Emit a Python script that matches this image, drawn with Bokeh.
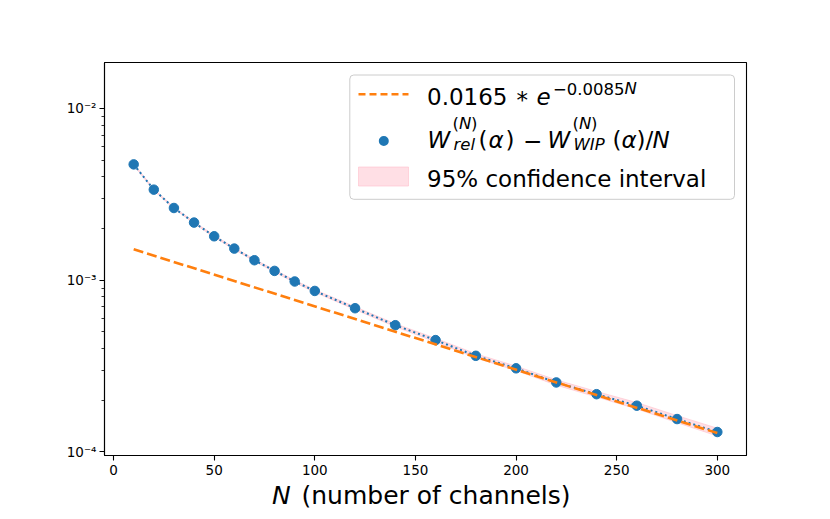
from bokeh.plotting import figure
from bokeh.models import (Label, BoxAnnotation, Arrow, FixedTicker,
                          CustomJSTickFormatter, Range1d)
from bokeh.embed import file_html
from bokeh.resources import INLINE

# ---- data ----
n_channels = [10, 20, 30, 40, 50, 60, 70, 80, 90, 100,
              120, 140, 160, 180, 200, 220, 240, 260, 280, 300]
w_diff = [4.724e-3, 3.367e-3, 2.633e-3, 2.165e-3, 1.802e-3, 1.528e-3,
          1.307e-3, 1.133e-3, 9.83e-4, 8.66e-4, 6.87e-4, 5.47e-4,
          4.48e-4, 3.63e-4, 3.07e-4, 2.54e-4, 2.17e-4, 1.86e-4,
          1.555e-4, 1.307e-4]
ci_low = [4.677e-3, 3.333e-3, 2.607e-3, 2.141e-3, 1.780e-3, 1.508e-3,
          1.289e-3, 1.116e-3, 9.67e-4, 8.51e-4, 6.74e-4, 5.36e-4,
          4.37e-4, 3.53e-4, 2.98e-4, 2.45e-4, 2.09e-4, 1.78e-4,
          1.482e-4, 1.239e-4]
ci_high = [4.771e-3, 3.401e-3, 2.659e-3, 2.189e-3, 1.824e-3, 1.548e-3,
           1.325e-3, 1.150e-3, 9.99e-4, 8.81e-4, 7.00e-4, 5.58e-4,
           4.59e-4, 3.73e-4, 3.16e-4, 2.63e-4, 2.25e-4, 1.94e-4,
           1.628e-4, 1.375e-4]
fit_n = [10, 300]
fit_y = [1.514e-3, 1.288e-4]

x_ticks = [0, 50, 100, 150, 200, 250, 300]
y_major_ticks = [1e-4, 1e-3, 1e-2]
y_minor_ticks = [2e-4, 3e-4, 4e-4, 5e-4, 6e-4, 7e-4, 8e-4, 9e-4,
                 2e-3, 3e-3, 4e-3, 5e-3, 6e-3, 7e-3, 8e-3, 9e-3]

BLUE = "#1f77b4"
ORANGE = "#ff7f0e"
PINK = "#ffc0cb"
FONT = "DejaVu Sans"

p = figure(width=822, height=511, y_axis_type="log",
           x_range=Range1d(-4.5, 314.5), y_range=Range1d(9.54e-5, 1.851e-2),
           output_backend="svg", toolbar_location=None,
           min_border_left=104, min_border_right=76,
           min_border_top=62, min_border_bottom=56)
p.background_fill_color = "white"
p.border_fill_color = "white"
p.outline_line_color = "black"
p.outline_line_width = 1.1
p.outline_line_alpha = 1.0
p.xgrid.visible = False
p.ygrid.visible = False

for ax in (p.xaxis[0], p.yaxis[0]):
    ax.axis_line_width = 1.1
    ax.major_tick_line_width = 1.1
    ax.minor_tick_line_width = 0.8
    ax.major_tick_in = 0
    ax.major_tick_out = 5
    ax.minor_tick_in = 0
    ax.minor_tick_out = 3
    ax.major_label_text_font = FONT
    ax.major_label_text_font_size = "13.5px"
    ax.major_label_text_color = "black"

p.xaxis.ticker = FixedTicker(ticks=x_ticks)
p.xaxis.major_label_standoff = 4
p.yaxis.ticker = FixedTicker(ticks=y_major_ticks, minor_ticks=y_minor_ticks)
p.yaxis.major_label_standoff = 3
p.yaxis.formatter = CustomJSTickFormatter(code="""
const e = Math.round(Math.log10(tick));
const sup = {'-':'\u207b','0':'\u2070','1':'\u00b9','2':'\u00b2','3':'\u00b3',
             '4':'\u2074','5':'\u2075','6':'\u2076','7':'\u2077','8':'\u2078','9':'\u2079'};
return '10' + String(e).split('').map(c => sup[c]).join('');
""")

# confidence band
p.varea(x=n_channels, y1=ci_low, y2=ci_high, fill_color=PINK, fill_alpha=0.5)
p.line(n_channels, ci_low, line_color=PINK, line_alpha=0.6, line_width=1)
p.line(n_channels, ci_high, line_color=PINK, line_alpha=0.6, line_width=1)
# dotted connecting line
p.line(n_channels, w_diff, line_color=BLUE, line_width=2, line_dash="2 3")
# points
p.scatter(n_channels, w_diff, size=9.5, fill_color=BLUE, line_color=BLUE)
# fit line
p.line(fit_n, fit_y, line_color=ORANGE, line_width=2.6, line_dash="10 4")

# ---- legend (frame-relative screen coordinates) ----
p.add_layout(BoxAnnotation(left=245.3, right=630, bottom=256.2, top=380.5,
                           left_units="screen", right_units="screen",
                           bottom_units="screen", top_units="screen",
                           fill_color="white", fill_alpha=0.8,
                           line_color="#cccccc", line_alpha=1.0, line_width=1,
                           border_radius=4))
p.add_layout(Arrow(end=None, x_start=254, y_start=361.2, x_end=304, y_end=361.2,
                   start_units="screen", end_units="screen",
                   line_color=ORANGE, line_width=2.6, line_dash="7 4"))
p.add_layout(BoxAnnotation(left=274.3, right=284.3,
                           bottom=309.5, top=319.5,
                           left_units="screen", right_units="screen",
                           bottom_units="screen", top_units="screen",
                           fill_color=BLUE, fill_alpha=1.0,
                           line_color=BLUE, line_alpha=1.0, line_width=0,
                           border_radius=5))
p.add_layout(BoxAnnotation(left=254, right=304, bottom=269.5, top=288.5,
                           left_units="screen", right_units="screen",
                           bottom_units="screen", top_units="screen",
                           fill_color=PINK, fill_alpha=0.5,
                           line_color=PINK, line_alpha=0.6, line_width=1))


def txt(s, x, y, size, italic=False, place=None):
    lab = Label(text=s, x=x, y=y, x_units="screen", y_units="screen",
                text_font=FONT, text_font_size=f"{size}px",
                text_font_style="italic" if italic else "normal",
                text_color="black", text_baseline="alphabetic",
                text_align="left")
    if place is None:
        p.add_layout(lab)
    else:
        p.add_layout(lab, place)


LEG = 23
SUP = 16.5
# row 1: 0.0165 * e^{-0.0085N}
R1, R1S = 358.7, 366.8
txt("0.0165", 322.5, R1, LEG)
txt("*", 412, R1 - 2.8, LEG)
txt("e", 432, R1, LEG, italic=True)
txt("\u22120.0085", 448.5, R1S, SUP)
txt("N", 520, R1S, SUP, italic=True)
# row 2: W_rel^(N)(alpha) - W_WIP^(N)(alpha)/N
R2, R2P, R2B = 315.3, 332.1, 310.6
txt("W", 323, R2, LEG, italic=True)
txt("(", 348, R2P, SUP)
txt("N", 354.4, R2P, SUP, italic=True)
txt(")", 366.6, R2P, SUP)
txt("rel", 349, R2B, SUP, italic=True)
txt("(", 374, R2, LEG)
txt("\u03b1", 384, R2, LEG, italic=True)
txt(")", 401, R2, LEG)
txt("\u2212", 418.6, R2, LEG)
txt("W", 443, R2, LEG, italic=True)
txt("(", 468, R2P, SUP)
txt("N", 474.4, R2P, SUP, italic=True)
txt(")", 486.6, R2P, SUP)
txt("WIP", 469, R2B, SUP, italic=True)
txt("(", 508, R2, LEG)
txt("\u03b1", 517, R2, LEG, italic=True)
txt(")", 532, R2, LEG)
txt("/", 541, R2, LEG)
txt("N", 548, R2, LEG, italic=True)
# row 3
txt("95% confidence interval", 322.5, 276.7, LEG)

# x axis label "N (number of channels)": hosted in side panels (which do not
# clip) and shifted to the spot under the axis
txt("N", -474.5, -39.5, 25, italic=True, place="right")
txt("(number of channels)", 197, -433, 25, place="above")

open("out.html", "w").write(file_html(p, INLINE))
